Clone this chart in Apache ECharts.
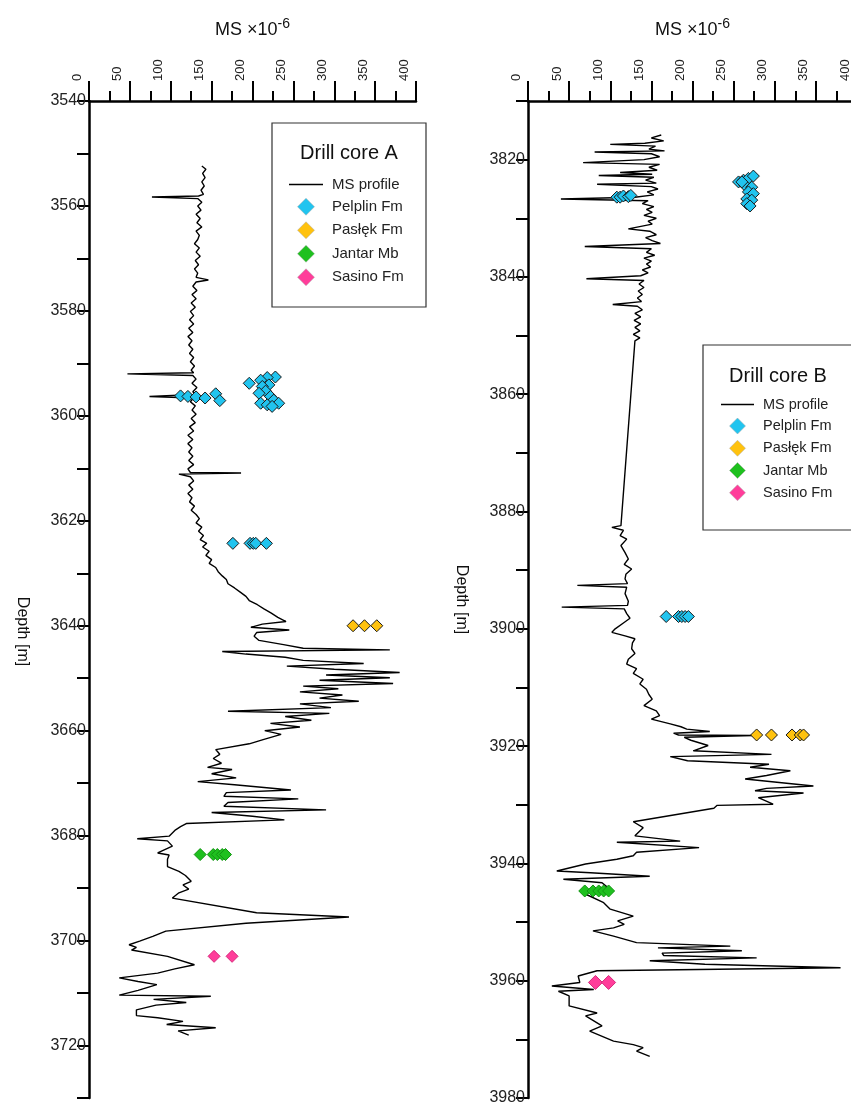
<!DOCTYPE html>
<html>
<head>
<meta charset="utf-8">
<title>MS profiles – drill cores A and B</title>
<script src="https://cdn.jsdelivr.net/npm/echarts@6/dist/echarts.min.js"></script>
<style>
  html, body { margin: 0; padding: 0; background: #fff; }
  #chart { width: 851px; height: 1107px; }
</style>
</head>
<body>
<div id="chart"></div>
<script>
// [depth m, MS x10^-6]
var profileA = [
  [3552.4,138],[3553.0,143],[3553.8,139],[3554.6,142],[3555.4,138],[3556.2,141],[3557.0,137],[3557.8,140],[3558.1,134],[3558.3,77],
  [3558.6,133],[3559.3,138],[3560.0,133],[3560.8,137],[3561.6,131],[3562.4,136],[3563.2,132],[3564.0,138],[3564.8,131],[3565.6,135],
  [3566.4,133],[3567.2,129],[3568.0,135],[3568.8,131],[3569.6,136],[3570.4,130],[3571.2,134],[3572.0,129],[3572.8,133],[3573.6,131],
  [3574.1,146],[3574.5,131],[3575.3,127],[3576.1,132],[3576.9,126],[3577.7,131],[3578.5,125],[3579.3,130],[3580.1,124],[3580.9,128],
  [3581.7,123],[3582.5,128],[3583.3,122],[3584.1,127],[3584.9,121],[3585.7,126],[3586.5,122],[3587.3,127],[3588.1,123],[3588.9,128],
  [3589.7,124],[3590.5,129],[3591.3,125],[3591.8,128],[3592.0,47],[3592.3,127],[3593.0,131],[3593.8,126],[3594.6,132],[3595.4,127],
  [3595.9,130],[3596.3,74],[3596.6,128],[3597.3,124],[3598.1,130],[3598.9,126],[3599.7,131],[3600.5,125],[3601.3,130],[3602.1,123],
  [3602.9,128],[3603.7,121],[3604.5,127],[3605.3,121],[3606.1,126],[3606.9,122],[3607.7,127],[3608.5,122],[3609.3,128],[3610.1,121],
  [3610.8,124],[3610.9,186],[3611.1,110],[3611.6,124],[3612.4,128],[3613.2,122],[3614.0,127],[3614.8,121],[3615.6,126],[3616.4,123],
  [3617.2,129],[3618.0,125],[3618.8,131],[3619.6,135],[3620.4,131],[3621.2,138],[3622.0,134],[3622.8,140],[3623.6,136],[3624.3,144],
  [3625.0,139],[3625.8,147],[3626.6,143],[3627.4,150],[3628.1,147],[3628.9,155],[3629.7,158],[3630.5,163],[3631.2,168],[3632.0,170],
  [3632.8,178],[3633.6,185],[3634.4,192],[3635.2,196],[3636.0,206],[3636.8,214],[3637.6,223],[3638.4,231],[3639.2,241],[3639.7,212],
  [3640.3,198],[3640.8,245],[3641.3,205],[3642.0,202],[3642.8,208],[3643.6,238],[3644.3,262],[3644.6,368],[3644.9,163],[3645.4,192],
  [3646.0,240],[3646.6,262],[3647.2,336],[3647.7,242],[3648.3,300],[3648.9,380],[3649.4,290],[3649.9,368],[3650.4,282],[3651.0,372],
  [3651.5,262],[3652.0,305],[3652.6,258],[3653.2,310],[3653.8,282],[3654.4,330],[3654.9,258],[3655.6,296],[3656.3,170],[3656.7,294],
  [3657.3,240],[3658.0,272],[3658.6,222],[3659.3,258],[3660.0,215],[3660.7,235],[3661.7,213],[3662.5,196],[3663.6,155],[3664.5,160],
  [3665.3,152],[3666.2,162],[3667.0,145],[3667.4,175],[3668.2,150],[3669.0,180],[3669.7,133],[3670.3,178],[3671.3,247],[3671.8,168],
  [3672.5,165],[3673.0,256],[3673.7,170],[3674.4,165],[3675.1,290],[3675.6,150],[3676.3,200],[3677.0,239],[3677.7,119],[3678.3,112],
  [3679.0,105],[3680.1,98],[3680.6,59],[3681.0,96],[3682.0,102],[3683.3,84],[3683.7,98],[3684.5,96],[3685.9,96],[3686.8,110],
  [3687.6,118],[3688.7,125],[3689.4,115],[3690.2,122],[3690.9,110],[3691.9,102],[3694.7,205],[3695.5,318],[3696.7,192],[3698.2,94],
  [3699.2,78],[3700.1,62],[3700.8,49],[3701.3,58],[3701.8,52],[3703.0,96],[3704.6,129],[3705.4,105],[3706.2,84],[3707.1,37],
  [3707.8,60],[3708.4,83],[3709.5,60],[3710.4,37],[3710.6,149],[3711.2,79],[3711.8,119],[3712.3,82],[3713.2,58],[3714.3,58],
  [3714.7,84],[3715.4,115],[3716.0,95],[3716.6,155],[3717.2,109],[3718.0,122]
];

var profileB = [
  [3815.8,162],[3816.3,150],[3816.8,165],[3817.2,142],[3817.4,100],[3817.7,155],[3818.2,147],[3818.5,166],[3818.7,81],[3819.0,150],
  [3819.5,160],[3820.0,141],[3820.5,67],[3820.8,160],[3821.3,147],[3821.8,157],[3822.2,112],[3822.5,151],[3822.7,86],[3823.0,153],
  [3823.5,143],[3824.0,156],[3824.2,84],[3824.6,150],[3825.0,158],[3825.5,145],[3826.0,153],[3826.4,130],[3826.7,40],[3827.0,146],
  [3827.5,139],[3828.0,153],[3828.5,144],[3829.0,151],[3829.5,141],[3830.0,156],[3830.5,146],[3831.0,151],[3831.8,122],[3832.2,148],
  [3832.8,156],[3833.3,143],[3833.8,151],[3834.3,161],[3834.8,69],[3835.2,150],[3835.8,144],[3836.3,154],[3836.8,141],[3837.3,150],
  [3837.8,144],[3838.3,149],[3838.8,139],[3839.3,146],[3839.8,137],[3840.3,71],[3840.6,141],[3841.2,135],[3841.8,141],[3842.4,134],
  [3843.0,139],[3843.6,133],[3844.2,138],[3844.7,103],[3845.0,133],[3845.6,139],[3846.2,130],[3846.8,137],[3847.4,129],[3848.0,137],
  [3848.6,130],[3849.2,136],[3849.8,128],[3850.4,136],[3850.9,130],[3882.4,113],[3882.7,102],[3883.2,116],[3884.1,112],[3884.7,120],
  [3885.8,113],[3887.0,118],[3888.1,122],[3889.0,117],[3889.8,126],[3890.7,119],[3891.5,118],[3892.3,121],[3892.6,60],[3892.9,120],
  [3894.0,118],[3895.3,122],[3896.0,121],[3896.3,41],[3896.6,117],[3897.4,120],[3898.2,124],[3899.0,116],[3900.0,106],[3900.6,102],
  [3901.2,118],[3901.7,130],[3902.4,127],[3903.4,126],[3904.2,130],[3905.2,122],[3906.0,120],[3906.8,132],[3907.6,128],[3908.6,140],
  [3909.4,136],[3910.3,144],[3911.2,147],[3912.0,151],[3913.1,141],[3914.0,156],[3914.8,160],[3915.4,150],[3916.2,173],[3916.7,186],
  [3917.1,193],[3917.5,221],[3917.8,177],[3918.1,183],[3918.2,274],[3918.5,190],[3919.0,198],[3919.9,219],[3920.8,201],[3921.4,296],
  [3921.8,173],[3922.5,194],[3923.1,293],[3923.6,270],[3924.2,319],[3925.0,290],[3925.6,264],[3926.8,347],[3927.2,290],[3927.6,276],
  [3928.0,335],[3928.8,280],[3929.9,298],[3930.1,230],[3930.6,226],[3932.9,128],[3933.9,140],[3935.3,130],[3936.2,185],[3936.4,108],
  [3937.3,208],[3938.1,132],[3938.7,128],[3939.3,108],[3940.1,70],[3941.3,35],[3941.6,76],[3942.2,148],[3942.7,43],[3943.3,90],
  [3944.0,96],[3944.7,75],[3945.3,71],[3946.7,92],[3947.8,100],[3949.0,128],[3949.8,109],[3950.4,117],[3951.0,104],[3951.5,79],
  [3952.4,104],[3953.5,132],[3954.1,246],[3954.4,158],[3954.9,260],[3955.3,163],[3955.7,165],[3956.1,278],[3956.6,148],[3957.2,215],
  [3957.8,380],[3958.3,84],[3959.2,61],[3960.3,63],[3960.9,29],[3961.5,80],[3961.8,37],[3962.6,50],[3964.3,50],[3965.5,84],
  [3966.0,70],[3967.7,90],[3968.6,75],[3970.3,104],[3970.9,128],[3971.4,140],[3972.0,132],[3972.9,148]
];

// sample points [depth, MS]
var pelplinA = [
  [3592.6,228],[3592.7,218],[3593.2,210],[3593.8,196],[3594.1,220],[3594.4,212],[3595.3,216],[3595.7,208],[3596.3,222],[3597.0,226],
  [3597.6,210],[3597.6,232],[3597.9,218],[3598.2,224],
  [3596.2,112],[3596.3,121],[3596.4,131],[3596.6,142],[3595.8,155],[3597.1,160],
  [3624.3,176],[3624.3,197],[3624.3,201],[3624.3,204],[3624.3,217]
];
var paslekA = [[3640,323],[3640,337],[3640,352]];
var jantarA = [[3683.6,136],[3683.6,152],[3683.6,157],[3683.6,163],[3683.6,167]];
var sasinoA = [[3703,153],[3703,175]];

var pelplinB = [
  [3826.4,108],[3826.4,112],[3826.2,116],[3826.3,122],[3826.1,125],
  [3823.8,256],[3823.5,262],[3823.2,268],[3822.8,274],[3824.4,264],[3824.7,272],[3825.5,268],[3825.8,274],[3826.7,266],
  [3826.9,272],[3827.5,266],[3827.9,270],[3823.8,260],
  [3897.9,168],[3897.9,183],[3897.9,187],[3897.9,191],[3897.9,195]
];
var paslekB = [[3918.1,278],[3918.1,296],[3918.1,321],[3918.1,331],[3918.1,335]];
var jantarB = [[3944.7,69],[3944.7,79],[3944.7,86],[3944.7,92],[3944.7,98]];
var sasinoB = [[3960.3,82],[3960.3,98]];

var legendNames = ['MS profile', 'Pelplin Fm', 'Pasłęk Fm', 'Jantar Mb', 'Sasino Fm'];
var colors = {
  'Pelplin Fm': '#21c4ef',
  'Pasłęk Fm': '#ffc20e',
  'Jantar Mb': '#1fc01f',
  'Sasino Fm': '#ff3d9a'
};
var borders = {
  'Pelplin Fm': '#1a1a1a',
  'Pasłęk Fm': '#1a1a1a',
  'Jantar Mb': '#139413',
  'Sasino Fm': '#d82a7c'
};

var FONT = 'Liberation Sans, Arial, sans-serif';
var DIAMOND = 'path://M10,0 L20,10 L10,20 L0,10 Z';
var DASH = 'path://M0,0 L36,0 L36,1.4 L0,1.4 Z';

function xy(rows) {
  return rows.map(function (r) { return [r[1], r[0]]; });
}

function xAxisOf(grid) {
  return {
    type: 'value', gridIndex: grid, position: 'top',
    min: 0, max: 400, interval: 50,
    name: '{a|MS ×10}{sup|-6}', nameLocation: 'middle', nameGap: 58,
    nameTextStyle: {
      rich: {
        a: { fontSize: 18, color: '#111', fontFamily: FONT },
        sup: { fontSize: 14, color: '#111', fontFamily: FONT, padding: [0, 0, 12, 0] }
      }
    },
    axisLine: { lineStyle: { color: '#000', width: 2.5 } },
    axisTick: { length: 20, lineStyle: { color: '#000', width: 2 } },
    minorTick: { show: true, splitNumber: 2, length: 10, lineStyle: { color: '#000', width: 2 } },
    splitLine: { show: false },
    minorSplitLine: { show: false },
    axisLabel: {
      rotate: -90, margin: 20, fontSize: 13, color: '#222', fontFamily: FONT,
      verticalAlign: 'bottom', lineHeight: 24
    }
  };
}

function yAxisOf(grid, min, max, namePad) {
  return {
    type: 'value', gridIndex: grid, inverse: true,
    min: min, max: max, interval: 10,
    name: 'Depth [m]', nameLocation: 'middle', nameRotate: -90, nameGap: 59,
    nameTextStyle: { fontSize: 16, color: '#111', fontFamily: FONT, padding: namePad },
    axisLine: { lineStyle: { color: '#000', width: 2.5 } },
    axisTick: { length: 12, lineStyle: { color: '#000', width: 2 } },
    splitLine: { show: false },
    axisLabel: {
      margin: 3, fontSize: 16, color: '#222', fontFamily: FONT,
      formatter: function (v) { return v % 20 === 0 ? String(v) : ''; }
    }
  };
}

function lineSeries(idx, rows) {
  return {
    name: 'MS profile', type: 'line', xAxisIndex: idx, yAxisIndex: idx,
    data: xy(rows), symbol: 'none', showSymbol: false,
    lineStyle: { color: '#000', width: 1.4 }, itemStyle: { color: '#000' },
    z: 2
  };
}

function dots(idx, name, rows, size) {
  return {
    name: name, type: 'scatter', xAxisIndex: idx, yAxisIndex: idx,
    data: xy(rows), symbol: 'diamond', symbolSize: size || 12,
    itemStyle: { color: colors[name], borderColor: borders[name], borderWidth: 1, opacity: 1 },
    z: 3
  };
}

function legendOf(left, top, w, h, gap, fs) {
  return {
    orient: 'vertical', left: left, top: top,
    itemWidth: w, itemHeight: h, itemGap: gap,
    selectedMode: false,
    textStyle: { fontSize: fs, color: '#222', fontFamily: FONT, padding: [0, 0, 0, 4] },
    data: legendNames.map(function (n) {
      if (n === 'MS profile') {
        return { name: n, icon: DASH, itemStyle: { color: '#000', borderWidth: 0 } };
      }
      return { name: n, icon: DIAMOND, itemStyle: { color: colors[n], borderColor: '#aaa', borderWidth: 0.5 } };
    })
  };
}

var chart = echarts.init(document.getElementById('chart'));
chart.setOption({
  animation: false,
  backgroundColor: '#fff',
  grid: [
    { left: 89, right: 435, top: 101, bottom: 9, outerBoundsMode: 'none' },
    { left: 528, right: -6, top: 101, bottom: 9, outerBoundsMode: 'none' }
  ],
  xAxis: [xAxisOf(0), xAxisOf(1)],
  yAxis: [yAxisOf(0, 3540, 3730, [0, 0, 0, 64]), yAxisOf(1, 3810, 3980, [0, 0, 0, 0])],
  legend: [
    legendOf(284, 172, 34, 17, 6, 15),
    legendOf(716, 392, 33, 16, 5.75, 14.5)
  ],
  graphic: [
    { type: 'rect', shape: { x: 272, y: 123, width: 154, height: 184 },
      style: { fill: '#fff', stroke: '#333', lineWidth: 1.2 }, z: 1 },
    { type: 'rect', shape: { x: 703, y: 345, width: 160, height: 185 },
      style: { fill: '#fff', stroke: '#333', lineWidth: 1.2 }, z: 1 },
    { type: 'text', x: 349, y: 153, z: 5,
      style: { text: 'Drill core A', fontSize: 20, fill: '#111', fontFamily: FONT, align: 'center', verticalAlign: 'middle' } },
    { type: 'text', x: 778, y: 376, z: 5,
      style: { text: 'Drill core B', fontSize: 20, fill: '#111', fontFamily: FONT, align: 'center', verticalAlign: 'middle' } }
  ],
  series: [
    lineSeries(0, profileA),
    dots(0, 'Pelplin Fm', pelplinA),
    dots(0, 'Pasłęk Fm', paslekA),
    dots(0, 'Jantar Mb', jantarA),
    dots(0, 'Sasino Fm', sasinoA),
    lineSeries(1, profileB),
    dots(1, 'Pelplin Fm', pelplinB),
    dots(1, 'Pasłęk Fm', paslekB),
    dots(1, 'Jantar Mb', jantarB),
    dots(1, 'Sasino Fm', sasinoB, 14)
  ]
});
</script>
</body>
</html>
